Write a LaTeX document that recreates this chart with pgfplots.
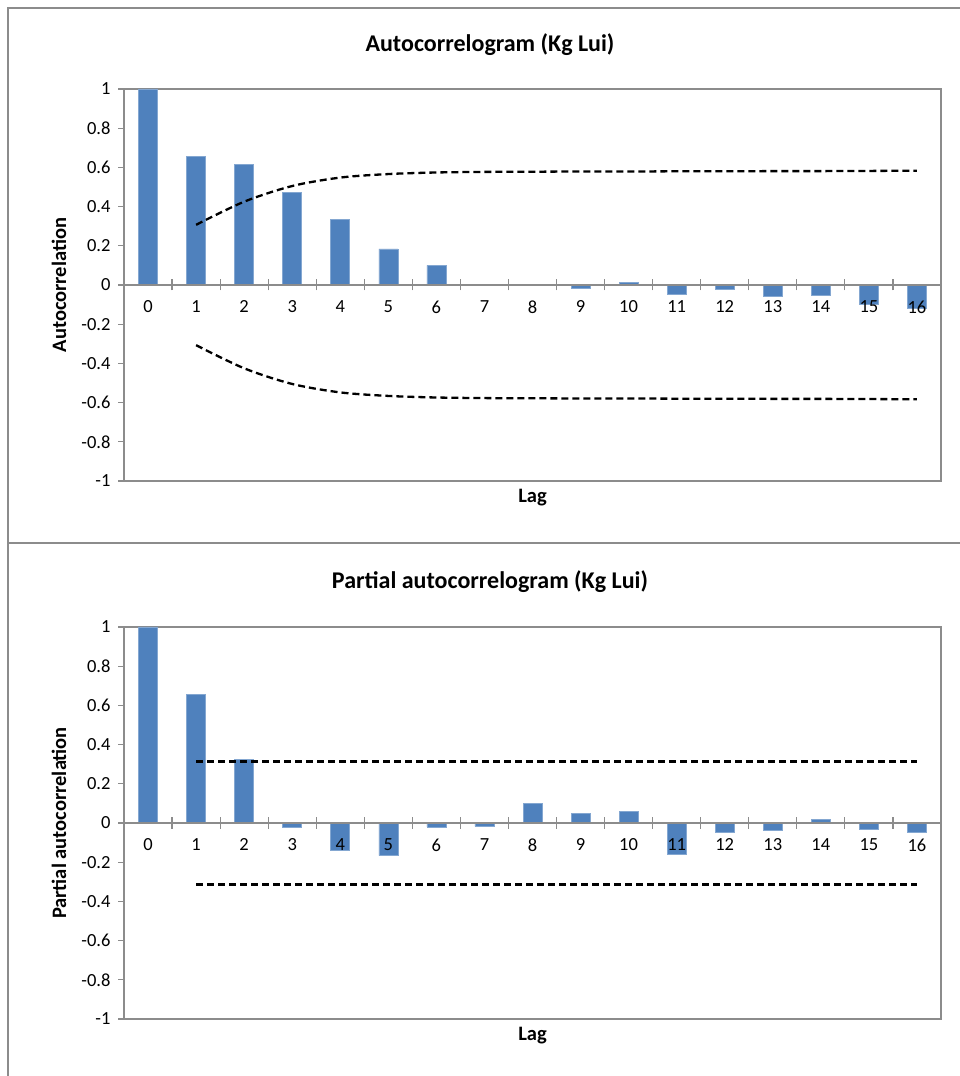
\documentclass[border=0pt]{standalone}
\usepackage{pgfplots}
\pgfplotsset{compat=1.18}
\usepackage{fontspec}
\setmainfont{Carlito}
\definecolor{barblue}{HTML}{4F81BD}
\definecolor{framegray}{HTML}{8C8C8C}
\pgfplotsset{acfstyle/.style={
  scale only axis, width=817pt, height=392pt, anchor=south west,
  xmin=-0.5, xmax=16.5, ymin=-1, ymax=1,
  axis x line*=middle, axis y line*=left,
  axis on top,
  axis line style={framegray, line width=1.2pt},
  xtick={0,...,16}, xticklabels={0,1,2,3,4,5,6,7,8,9,10,11,12,13,14,15,16},
  major x tick style={draw=none},
  minor xtick={-0.5,0.5,1.5,2.5,3.5,4.5,5.5,6.5,7.5,8.5,9.5,10.5,11.5,12.5,13.5,14.5,15.5,16.5},
  minor tick length=11pt,
  minor x tick style={draw=framegray, line width=1.2pt, yshift=5.5pt},
  ytick={-1,-0.8,-0.6,-0.4,-0.2,0,0.2,0.4,0.6,0.8,1},
  yticklabels={-1,-0.8,-0.6,-0.4,-0.2,0,0.2,0.4,0.6,0.8,1},
  y tick style={draw=framegray, line width=1.2pt},
  major tick length=6pt, tick align=outside,
  ticklabel style={font=\fontsize{18.5}{22}\selectfont},
  xticklabel style={yshift=-6pt},
  yticklabel style={xshift=-4pt},
  every axis x label/.style={at={(rel axis cs:0.5,0)}, anchor=north, yshift=-5pt, font=\fontsize{20.5}{24}\selectfont\bfseries},
  every axis y label/.style={at={(rel axis cs:0,0.5)}, xshift=-65pt, rotate=90, anchor=center, font=\fontsize{20.5}{24}\selectfont\bfseries},
  xlabel={Lag},
  ybar, bar width=19pt, bar shift=0pt,
  clip=false,
}}
\begin{document}
\begin{tikzpicture}[x=1pt,y=1pt]
\useasboundingbox (0,0) rectangle (960,1076);
\draw[framegray, line width=1.2pt] (8,-2) -- (8,1068) -- (962,1068);
\draw[framegray, line width=1.2pt] (8,533) -- (962,533);
\node[font=\fontsize{24}{28}\selectfont\bfseries] at (490,1031) {Autocorrelogram (Kg Lui)};
\node[font=\fontsize{24}{28}\selectfont\bfseries] at (490,494) {Partial autocorrelogram (Kg Lui)};

\begin{axis}[acfstyle, at={(124pt,595pt)}, ylabel={Autocorrelation}]
\draw[framegray, line width=1.2pt] (rel axis cs:0,0) rectangle (rel axis cs:1,1);
\addplot[fill=barblue, draw=barblue!70!white, line width=0.6pt] coordinates {
(0,1) (1,0.655) (2,0.614) (3,0.473) (4,0.335) (5,0.184) (6,0.100) (7,0.005) (8,0.001)
(9,-0.017) (10,0.015) (11,-0.046) (12,-0.022) (13,-0.056) (14,-0.053) (15,-0.100) (16,-0.117)};
\addplot[smooth, black, line width=2.3pt, dash pattern=on 7pt off 4pt] coordinates {
(1,0.307) (2,0.425) (3,0.505) (4,0.548) (5,0.566) (6,0.574) (7,0.577) (8,0.578)
(9,0.579) (10,0.579) (11,0.580) (12,0.580) (13,0.581) (14,0.581) (15,0.582) (16,0.583)};
\addplot[smooth, black, line width=2.3pt, dash pattern=on 7pt off 4pt] coordinates {
(1,-0.307) (2,-0.425) (3,-0.505) (4,-0.548) (5,-0.566) (6,-0.574) (7,-0.577) (8,-0.578)
(9,-0.579) (10,-0.579) (11,-0.580) (12,-0.580) (13,-0.581) (14,-0.581) (15,-0.582) (16,-0.583)};
\end{axis}

\begin{axis}[acfstyle, at={(124pt,57pt)}, ylabel={Partial autocorrelation}]
\draw[framegray, line width=1.2pt] (rel axis cs:0,0) rectangle (rel axis cs:1,1);
\addplot[fill=barblue, draw=barblue!70!white, line width=0.6pt] coordinates {
(0,1) (1,0.656) (2,0.325) (3,-0.024) (4,-0.138) (5,-0.167) (6,-0.020) (7,-0.017) (8,0.100)
(9,0.051) (10,0.061) (11,-0.158) (12,-0.046) (13,-0.039) (14,0.020) (15,-0.034) (16,-0.046)};
\addplot[sharp plot, black, line width=2.3pt, dash pattern=on 7pt off 4pt] coordinates {
(1,0.314) (16,0.314)};
\addplot[sharp plot, black, line width=2.3pt, dash pattern=on 7pt off 4pt] coordinates {
(1,-0.314) (16,-0.314)};
\end{axis}
\end{tikzpicture}
\end{document}
